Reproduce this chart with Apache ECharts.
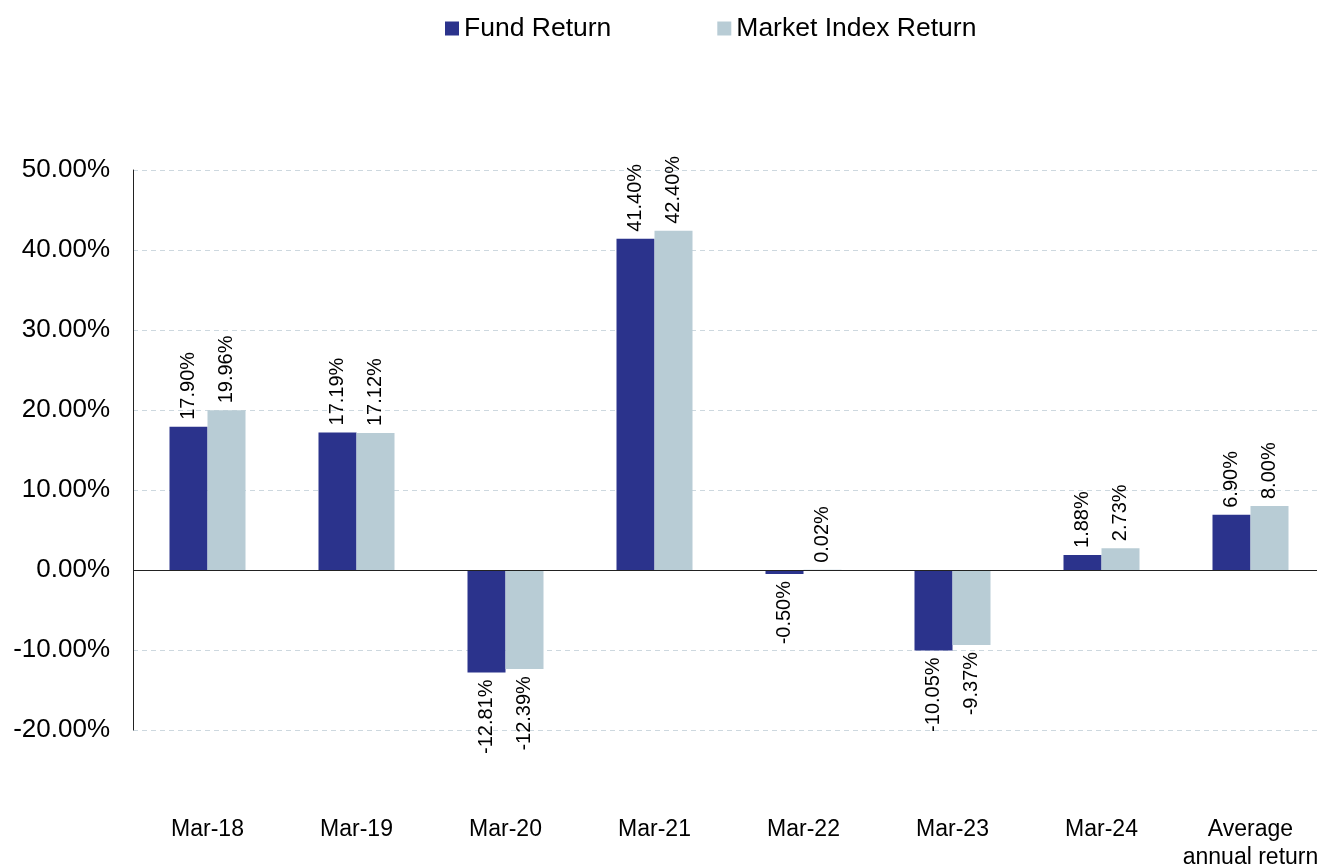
<!DOCTYPE html>
<html>
<head>
<meta charset="utf-8">
<script src="https://cdn.jsdelivr.net/npm/echarts@6/dist/echarts.min.js"></script>
<style>
  html, body { margin: 0; padding: 0; background: #fff; overflow: hidden; }
  /* chart is a bit wider than the window so the last category gets clipped like the original */
  #chart { width: 1325px; height: 868px; }
</style>
</head>
<body>
<div id="chart"></div>
<script>
// categories and series values (percent)
var categories = ['Mar-18', 'Mar-19', 'Mar-20', 'Mar-21', 'Mar-22', 'Mar-23', 'Mar-24', 'Average\nannual return'];
var seriesNames = ['Fund Return', 'Market Index Return'];
var fundReturn = [17.90, 17.19, -12.81, 41.40, -0.50, -10.05, 1.88, 6.90];
var marketReturn = [19.96, 17.12, -12.39, 42.40, 0.02, -9.37, 2.73, 8.00];

var FONT = '"Liberation Sans", Arial, sans-serif';

// negative bars get the label hanging below, positive ones above
function toItems(list) {
    var out = [];
    for (var i = 0; i < list.length; i++) {
        var v = list[i];
        out.push({
            value: v,
            label: { align: v < 0 ? 'right' : 'left' }
        });
    }
    return out;
}

var labelOpt = {
    show: true,
    position: 'outside',
    rotate: 90,
    verticalAlign: 'middle',
    distance: 7,
    color: '#000',
    fontFamily: FONT,
    fontSize: 20,
    formatter: function (p) {
        return p.value.toFixed(2) + '%';
    }
};

var option = {
    backgroundColor: '#fff',
    animation: false,
    legend: {
        left: 440,
        top: 10,
        itemWidth: 14,
        itemHeight: 14,
        itemGap: 106,
        icon: 'rect',
        textStyle: { fontFamily: FONT, fontSize: 26.5, color: '#000' },
        data: seriesNames
    },
    grid: {
        left: 133,
        right: 0,
        top: 170,
        bottom: 138,
        outerBoundsMode: 'none',
        containLabel: false
    },
    xAxis: {
        type: 'category',
        data: categories,
        axisLine: { show: false, onZero: false },
        axisTick: { show: false },
        axisLabel: {
            margin: 86,
            fontFamily: FONT,
            fontSize: 23,
            lineHeight: 28,
            color: '#000',
            interval: 0
        },
        splitLine: { show: false }
    },
    yAxis: {
        type: 'value',
        min: -20,
        max: 50,
        interval: 10,
        axisLine: { show: true, lineStyle: { color: '#222', width: 1 } },
        axisTick: { show: false },
        axisLabel: {
            margin: 23,
            fontFamily: FONT,
            fontSize: 26,
            color: '#000',
            formatter: function (v) { return v.toFixed(2) + '%'; }
        },
        splitLine: {
            show: true,
            lineStyle: { color: '#cdd8df', type: [5, 4], width: 1 }
        }
    },
    series: [{
            name: seriesNames[0],
            type: 'bar',
            barWidth: 38,
            barGap: '0%',
            itemStyle: { color: '#2b338c' },
            label: labelOpt,
            data: toItems(fundReturn),
            markLine: {
                silent: true,
                symbol: 'none',
                label: { show: false },
                lineStyle: { color: '#222', type: 'solid', width: 1.2 },
                data: [{ yAxis: 0 }]
            }
        },
        {
            name: seriesNames[1],
            type: 'bar',
            barWidth: 38,
            barGap: '0%',
            itemStyle: { color: '#b8ccd5' },
            label: labelOpt,
            data: toItems(marketReturn)
        }
    ]
};

var chartDiv = document.getElementById('chart');
var chart = echarts.init(chartDiv);
chart.setOption(option);
</script>
</body>
</html>
